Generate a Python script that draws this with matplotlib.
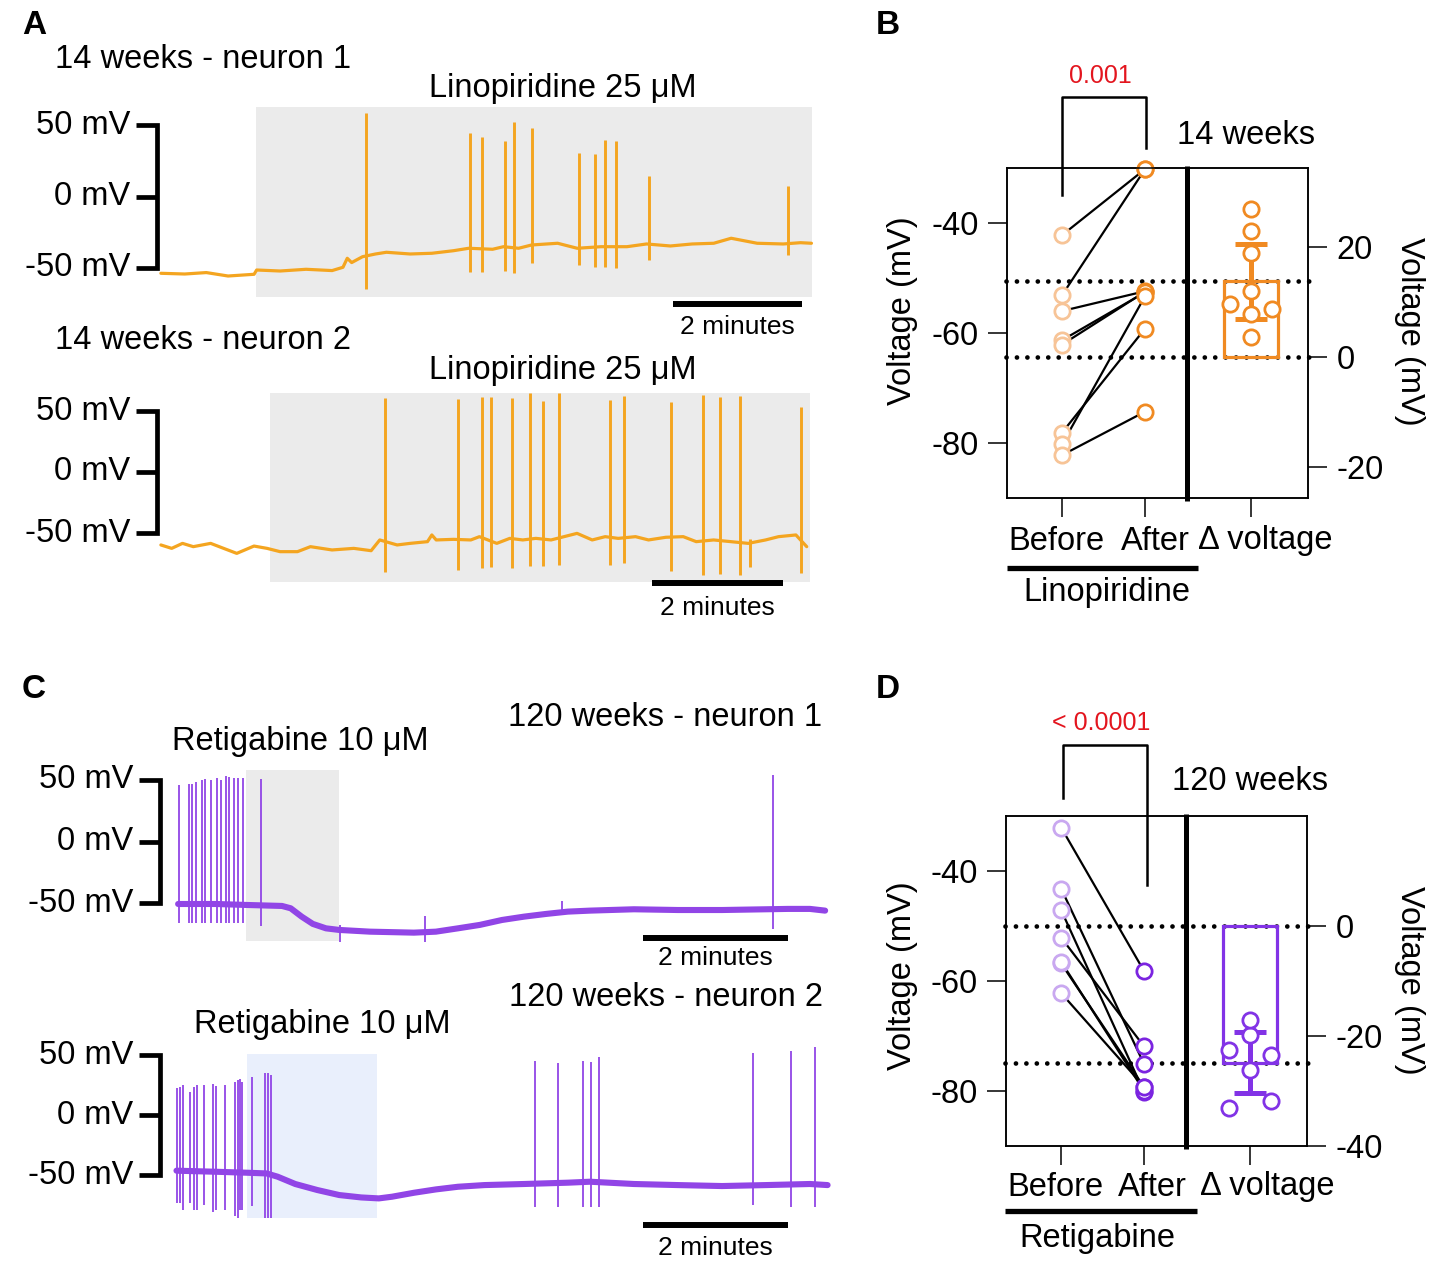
import numpy as np
import matplotlib
matplotlib.use("Agg")
import matplotlib.pyplot as plt
from matplotlib.patches import Rectangle
from matplotlib.lines import Line2D

plt.rcParams['font.family'] = ['Liberation Sans', 'DejaVu Sans']
plt.rcParams['axes.unicode_minus'] = False

# ---------------- data ----------------
# Panel A, neuron 1 (time s, membrane potential mV)
a1_base_t = [0.8, 23.0, 43.1, 63.3, 87.5, 89.9, 111.7, 135.9, 160.1, 170.2, 174.2, 178.3, 188.4,
             200.5, 210.6, 232.7, 252.9, 273.1, 287.2, 309.4, 319.5, 333.6, 345.7, 369.9, 388.1,
             410.2, 434.4, 452.6, 474.8, 495.0, 515.1, 531.3, 555.5, 579.7, 595.8, 606.0]
a1_base_mv = [-53.7, -54.2, -53.2, -55.6, -54.4, -51.4, -52.1, -50.9, -51.8, -49.5, -43.2, -46.2, -42.1,
              -40.2, -39.0, -40.2, -39.7, -37.9, -36.2, -36.9, -35.1, -36.2, -33.9, -32.7, -36.2,
              -35.1, -35.1, -33.2, -34.6, -33.2, -32.7, -29.2, -32.7, -33.2, -32.3, -32.7]
a1_spike_t = [191.6, 288.0, 299.2, 320.6, 329.6, 346.5, 390.0, 405.0, 413.9, 424.4, 454.6, 584.5]
a1_spike_peak = [58.6, 44.2, 41.4, 39.0, 52.3, 47.7, 30.6, 29.7, 39.5, 39.0, 14.3, 7.3]
a1_spike_trough = [-64.9, -52.6, -52.6, -51.9, -53.7, -46.7, -47.9, -49.1, -49.1, -50.2, -44.4, -40.9]
a1_drug = [89.0, 606.5]

# Panel A, neuron 2
a2_base_t = [0.8, 10.7, 20.6, 30.5, 46.4, 58.3, 70.3, 86.1, 98.1, 110.0, 125.9, 137.8, 157.6, 177.5,
             193.4, 201.3, 217.2, 229.1, 245.0, 249.0, 253.0, 268.8, 284.7, 292.6, 308.5, 320.4, 332.3,
             344.3, 358.2, 382.0, 395.9, 407.8, 419.7, 435.6, 447.5, 463.4, 479.3, 491.2, 507.1, 523.0,
             538.8, 554.7, 566.6, 582.5, 592.4]
a2_base_mv = [-59.8, -62.6, -58.5, -61.2, -58.5, -62.6, -66.7, -60.7, -62.6, -65.3, -65.3, -61.2, -63.9,
              -62.6, -64.5, -55.7, -59.8, -58.5, -57.1, -51.6, -55.7, -55.2, -55.7, -53.0, -58.5, -54.4,
              -55.7, -54.4, -55.7, -50.3, -55.7, -53.0, -54.4, -53.0, -55.7, -53.5, -53.0, -57.1, -55.7,
              -57.1, -58.5, -55.7, -53.0, -51.6, -61.2]
a2_spike_t = [205.7, 272.8, 295.0, 303.4, 322.8, 338.7, 351.0, 365.7, 412.2, 424.9, 468.2, 497.5,
              513.4, 531.3, 540.8, 587.3]
a2_spike_peak = [60.4, 59.8, 61.7, 61.2, 60.4, 64.5, 58.5, 65.0, 59.0, 62.3, 57.6, 63.1, 61.2, 62.3,
                 -55.0, 53.5]
a2_spike_trough = [-81.7, -80.3, -79.0, -78.1, -79.0, -77.0, -77.0, -76.2, -76.2, -74.9, -80.9, -84.4,
                   -83.6, -84.4, -77.6, -82.5]
a2_drug = [100.8, 595.4]

# Panel C, neuron 1
c1_base_t = [0.1, 31.4, 56.9, 86.1, 93.3, 102.4, 111.6, 122.5, 133.4, 158.9, 195.3, 213.5, 231.7,
             249.9, 268.2, 286.4, 304.6, 322.8, 341.0, 377.4, 413.8, 450.3, 486.7, 504.9, 523.1, 535.7]
c1_base_mv = [-50.8, -50.8, -51.6, -52.4, -54.3, -61.1, -67.0, -70.6, -71.9, -73.3, -74.1, -73.3, -70.6,
              -67.8, -63.8, -61.1, -58.9, -57.0, -56.2, -55.1, -55.7, -55.7, -55.1, -54.8, -54.8, -56.2]
c1_spike_t = [0.8, 8.8, 11.4, 14.7, 19.8, 22.0, 27.1, 32.2, 35.8, 39.8, 42.4, 46.7, 50.0, 53.6, 69.0,
              134.1, 204.4, 318.1, 492.5]
c1_spike_peak = [46.0, 46.8, 46.8, 48.7, 50.0, 50.6, 50.0, 51.4, 50.0, 53.3, 52.2, 51.4, 51.4, 51.4, 50.6,
                 -68.0, -60.5, -48.1, 54.1]
c1_spike_trough = [-66.5, -66.5, -66.5, -66.5, -66.5, -66.5, -66.5, -66.5, -66.5, -66.5, -66.5, -66.5,
                   -66.5, -66.5, -68.7, -81.4, -81.4, -57.0, -71.4]
c1_drug = [56.3, 133.4]

# Panel C, neuron 2
c2_base_t = [0.4, 33.1, 58.6, 75.0, 84.1, 98.7, 116.9, 135.1, 153.3, 167.9, 178.8, 197.0, 215.2, 233.4,
             255.3, 288.1, 324.5, 342.7, 379.1, 415.5, 452.0, 488.4, 524.8, 539.4]
c2_base_mv = [-46.4, -47.3, -48.1, -48.7, -51.4, -57.5, -62.5, -66.7, -68.7, -69.5, -68.1, -64.8, -62.0,
              -59.8, -58.4, -57.5, -56.4, -55.6, -57.5, -58.4, -59.2, -58.4, -57.5, -58.4]
c2_spike_t = [1.1, 3.3, 5.8, 12.0, 14.9, 17.5, 22.9, 30.6, 33.1, 40.4, 49.2, 51.3, 53.2, 55.0, 62.6, 73.9,
              76.1, 78.3, 297.2, 316.5, 337.2, 343.4, 350.0, 477.5, 509.5, 529.2]
c2_spike_peak = [22.2, 23.6, 25.0, 19.4, 23.6, 25.0, 25.0, 25.5, 24.1, 25.0, 27.7, 29.1, 29.7, 27.7, 31.4,
                 35.2, 34.7, 33.3, 45.2, 43.6, 45.2, 44.4, 48.6, 51.9, 53.6, 56.4]
c2_spike_trough = [-73.7, -73.7, -79.2, -73.7, -79.2, -79.2, -75.0, -81.0, -79.2, -79.2, -84.0, -86.2,
                   -79.2, -79.2, -76.0, -86.2, -86.2, -86.2, -76.4, -76.4, -76.4, -76.4, -76.4, -75.0,
                   -76.4, -76.4]
c2_drug = [58.8, 166.8]

# Panel B (14 weeks, linopiridine), paired resting potentials (mV)
b_before = [-42.2, -53.1, -56.0, -61.3, -62.1, -78.1, -80.2, -82.2]
b_after = [-30.2, -30.2, -52.4, -52.6, -52.5, -59.2, -53.3, -74.3]
b_jitter = [0, 0, 0, 0.25, -0.25, 0, 0, 0]

# Panel D (120 weeks, retigabine)
d_before = [-32.1, -43.2, -47.1, -52.1, -56.8, -56.5, -62.2]
d_after = [-58.2, -75.1, -80.2, -71.9, -79.3, -80.0, -79.2]
d_jitter = [0, 0.25, -0.25, 0, -0.25, 0.25, 0]

scale_mv = [50, 0, -50]
scale_labels = ['50 mV', '0 mV', '-50 mV']
group_labels = ['Before', 'After', '\u0394 voltage']

# ---------------- figure ----------------
W, H = 1430, 1271
fig = plt.figure(figsize=(W / 100, H / 100), dpi=100)
FS = 23.5
FS_S = 19

ORANGE_TR = '#F4A520'
PURPLE_TR = '#9145E6'
GRAY = '#EBEBEB'
BLUE = '#E9EFFC'


def add_ax(l, t, r, b):
    return fig.add_axes([l / W, 1 - b / H, (r - l) / W, (b - t) / H])


def ftext(x, y, s, **kw):
    kw.setdefault('fontsize', FS)
    fig.text(x / W, 1 - y / H, s, **kw)


def fline(xs, ys, **kw):
    fig.add_artist(Line2D([x / W for x in xs], [1 - y / H for y in ys],
                          transform=fig.transFigure, **kw))


def trace_panel(box, t0_px, pps, y50, ym50, bar_x, base_t, base_mv, sp_t, sp_hi, sp_lo,
                color, lw_base, lw_sp, drug, shade_ypx, shade_color, tbar_x, tbar_y, ttext_y):
    l, t, r, b = box
    ax = add_ax(l, t, r, b)
    ppm = (ym50 - y50) / 100.0
    mv = lambda ypx: -50 + (ym50 - ypx) / ppm
    tt = lambda xpx: (xpx - t0_px) / pps
    ax.set_xlim(tt(l), tt(r))
    ax.set_ylim(mv(b), mv(t))
    ax.axis('off')
    ylo, yhi = mv(shade_ypx[1]), mv(shade_ypx[0])
    ax.add_patch(Rectangle((drug[0], ylo), drug[1] - drug[0], yhi - ylo,
                           facecolor=shade_color, edgecolor='none', zorder=0))
    ax.vlines(sp_t, sp_lo, sp_hi, color=color, lw=lw_sp, zorder=2)
    ax.plot(base_t, base_mv, color=color, lw=lw_base, zorder=3,
            solid_joinstyle='round', solid_capstyle='round')
    xs, xt = tt(bar_x), tt(bar_x - 21)
    ax.plot([xt, xs, xs, xt], [scale_mv[0], scale_mv[0], scale_mv[2], scale_mv[2]], color='k',
            lw=3.4, clip_on=False, solid_joinstyle='miter', solid_capstyle='butt')
    ax.plot([xt, xs], [scale_mv[1], scale_mv[1]], color='k', lw=3.4, clip_on=False,
            solid_capstyle='butt')
    for v, s in zip(scale_mv, scale_labels):
        ax.text(tt(bar_x - 27), v, s, ha='right', va='center', fontsize=FS, clip_on=False)
    ts = tt(tbar_x)
    ax.plot([ts, ts + 120], [mv(tbar_y)] * 2, color='k', lw=4.3, clip_on=False,
            solid_capstyle='butt')
    ax.text(ts + 60, mv(ttext_y), '2 minutes', ha='center', va='center', fontsize=FS_S,
            clip_on=False)
    return ax


XPOS = [0, 1, 2.28]
MS, MEW = 11, 2.0


def est_panel(box, before, after, jitter, cb, ca, cbar, rticks, tcrit):
    ax = add_ax(*box)
    ax.set_xlim(-0.665, 2.965)
    ax.set_ylim(-90, -30)
    before = np.array(before)
    after = np.array(after)
    for bv, av in zip(before, after):
        ax.plot([XPOS[0], XPOS[1]], [bv, av], color='k', lw=1.6, zorder=2)
    ax.plot(np.full(len(before), XPOS[0]), before, 'o', ms=MS, mfc='white', mec=cb, mew=MEW,
            zorder=3, clip_on=False)
    ax.plot(np.full(len(after), XPOS[1]), after, 'o', ms=MS, mfc='white', mec=ca, mew=MEW,
            zorder=3, clip_on=False)
    mb, ma = before.mean(), after.mean()
    for m in (mb, ma):
        ax.plot([-0.68, 2.98], [m, m], color='k', lw=3.4, ls=(0, (0.01, 2.2)),
                dash_capstyle='round', zorder=1.5, clip_on=False)
    ax.plot([1.51, 1.51], [-90.5, -29.6], color='k', lw=3.6, clip_on=False, zorder=4,
            solid_capstyle='butt')
    ax.set_xticks(XPOS)
    ax.set_xticklabels([])
    ax.set_yticks([-40, -60, -80])
    ax.tick_params(axis='both', direction='out', length=13.5, width=1.1, labelsize=FS)
    ax.tick_params(axis='y', pad=7)
    for s in ax.spines.values():
        s.set_linewidth(1.1)
    ax2 = ax.twinx()
    ax2.set_ylim(-90 - mb, -30 - mb)
    ax2.set_yticks(rticks)
    ax2.tick_params(axis='y', direction='out', length=13.5, width=1.1, labelsize=FS, pad=7)
    for s in ax2.spines.values():
        s.set_linewidth(1.1)
    d = after - before
    dm = d.mean()
    ci = tcrit * d.std(ddof=1) / np.sqrt(len(d))
    ax2.bar(XPOS[2], dm, width=0.645, fill=False, edgecolor=cbar, lw=2.3, zorder=2)
    ax2.errorbar(XPOS[2], dm, yerr=ci, color=cbar, lw=3.6, capsize=11.5, capthick=3.6, zorder=3)
    ax2.plot(XPOS[2] + np.array(jitter), d, 'o', ms=MS, mfc='white', mec=cbar, mew=MEW,
             zorder=4, clip_on=False)
    return ax, ax2


# ---- Panel A ----
ftext(22, 25, 'A', fontsize=24, fontweight='bold', ha='left', va='center')
ftext(55, 60, '14 weeks - neuron 1', ha='left', va='center')
ftext(563, 88, 'Linopiridine 25 \u03bcM', ha='center', va='center')
trace_panel((150, 100, 830, 345), 160, 1.075, 125, 268, 157,
            a1_base_t, a1_base_mv, a1_spike_t, a1_spike_peak, a1_spike_trough,
            ORANGE_TR, 2.3, 2.1, a1_drug, (107, 297), GRAY, 673, 304, 327)

ftext(55, 340, '14 weeks - neuron 2', ha='left', va='center')
ftext(563, 370, 'Linopiridine 25 \u03bcM', ha='center', va='center')
trace_panel((150, 385, 830, 600), 160, 1.0917, 411, 533, 157,
            a2_base_t, a2_base_mv, a2_spike_t, a2_spike_peak, a2_spike_trough,
            ORANGE_TR, 2.3, 2.1, a2_drug, (393, 582), GRAY, 652, 583, 608)

# ---- Panel C ----
ftext(22, 690, 'C', fontsize=24, fontweight='bold', ha='left', va='center')
ftext(300, 742, 'Retigabine 10 \u03bcM', ha='center', va='center')
ftext(822, 718, '120 weeks - neuron 1', ha='right', va='center')
trace_panel((150, 760, 840, 950), 178, 1.208, 780, 903, 160,
            c1_base_t, c1_base_mv, c1_spike_t, c1_spike_peak, c1_spike_trough,
            PURPLE_TR, 4.4, 1.3, c1_drug, (770, 941), GRAY, 643, 938, 958)

ftext(823, 997, '120 weeks - neuron 2', ha='right', va='center')
ftext(322, 1025, 'Retigabine 10 \u03bcM', ha='center', va='center')
trace_panel((150, 1040, 840, 1230), 176, 1.208, 1055, 1175, 160,
            c2_base_t, c2_base_mv, c2_spike_t, c2_spike_peak, c2_spike_trough,
            PURPLE_TR, 4.4, 1.3, c2_drug, (1054, 1218), BLUE, 643, 1225, 1248)

# ---- Panel B ----
ftext(876, 25, 'B', fontsize=24, fontweight='bold', ha='left', va='center')
est_panel((1007, 168, 1308, 498), b_before, b_after, b_jitter,
          '#F7C497', '#F08A22', '#F08A22', [20, 0, -20], 2.365)
fline([1062, 1062, 1146, 1146], [195, 97, 97, 148], color='k', lw=1.8)
ftext(1100, 76, '0.001', color='#E3151E', fontsize=18, ha='center', va='center')
ftext(1246, 135, '14 weeks', ha='center', va='center')
for x, s in zip([1056, 1155, 1265], group_labels):
    ftext(x, 541, s, ha='center', va='center')
fline([1007, 1198], [568, 568], color='k', lw=3.8, solid_capstyle='butt')
ftext(1107, 593, 'Linopiridine', ha='center', va='center')
ftext(903, 311, 'Voltage (mV)', rotation=90, ha='center', va='center')
ftext(1410, 331, 'Voltage (mV)', rotation=270, ha='center', va='center')

# ---- Panel D ----
ftext(876, 690, 'D', fontsize=24, fontweight='bold', ha='left', va='center')
est_panel((1006, 816, 1307, 1146), d_before, d_after, d_jitter,
          '#C9A8F0', '#7B24E0', '#8233E6', [0, -20, -40], 2.447)
fline([1063, 1063, 1147, 1147], [798, 745, 745, 885], color='k', lw=1.8)
ftext(1101, 723, '< 0.0001', color='#E3151E', fontsize=18, ha='center', va='center')
ftext(1250, 781, '120 weeks', ha='center', va='center')
for x, s in zip([1055, 1152, 1267], group_labels):
    ftext(x, 1187, s, ha='center', va='center')
fline([1005, 1197], [1211, 1211], color='k', lw=3.8, solid_capstyle='butt')
ftext(1097, 1238, 'Retigabine', ha='center', va='center')
ftext(903, 976, 'Voltage (mV)', rotation=90, ha='center', va='center')
ftext(1410, 980, 'Voltage (mV)', rotation=270, ha='center', va='center')

fig.savefig('out.png', dpi=100)
